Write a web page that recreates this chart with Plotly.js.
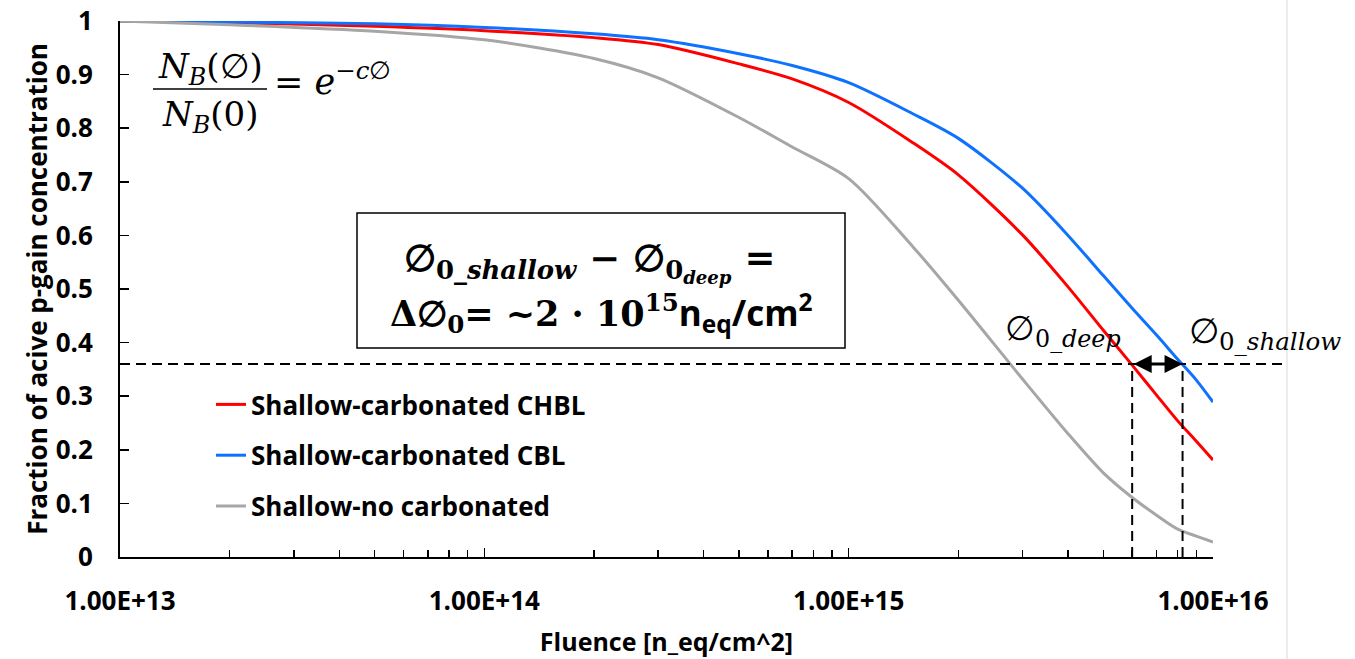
<!DOCTYPE html>
<html><head><meta charset="utf-8">
<script src="https://cdn.plot.ly/plotly-3.0.1.min.js"></script>
<style>html,body{margin:0;padding:0;background:#fff;}#chart{width:1355px;height:659px;}</style>
</head><body><div id="chart"></div>
<script>
// ---- data ----
const fluence = [1e13,2e13,5e13,1e14,2e14,3e14,5e14,7e14,1e15,1.5e15,2e15,3e15,4e15,5e15,6e15,7e15,8e15,9e15,1e16];
const chbl    = [1.000,0.997,0.990,0.982,0.969,0.956,0.920,0.892,0.848,0.773,0.713,0.601,0.504,0.423,0.358,0.302,0.254,0.216,0.181];
const cbl     = [1.000,0.998,0.995,0.988,0.976,0.965,0.939,0.917,0.885,0.827,0.781,0.688,0.600,0.525,0.464,0.414,0.369,0.330,0.289];
const noCarb  = [1.000,0.993,0.981,0.965,0.930,0.894,0.820,0.765,0.706,0.579,0.479,0.332,0.230,0.157,0.111,0.078,0.052,0.039,0.028];
const seriesNames = ['Shallow-carbonated CHBL','Shallow-carbonated CBL','Shallow-no carbonated'];
const xTickVals = [1e13,1e14,1e15,1e16];
const xTickText = ['1.00E+13','1.00E+14','1.00E+15','1.00E+16'];
const yTickVals = [0,0.1,0.2,0.3,0.4,0.5,0.6,0.7,0.8,0.9,1];
const yTickText = ['0','0.1','0.2','0.3','0.4','0.5','0.6','0.7','0.8','0.9','1'];
const threshold = 0.36;
const phiDeep = 6.0e15;
const phiShallow = 8.25e15;

// ---- styling ----
const SANS = 'Open Sans';
const SERIF = 'DejaVu Serif';
const colors = ['#FF0000','#0F72FF','#A6A6A6'];
const minorVals = [];
for (let d = 13; d < 16; d++) for (let m = 2; m <= 9; m++) minorVals.push(m * Math.pow(10, d));

const L = 120, R = 1213, T = 21, B = 557;
const px = x => (x - L) / (R - L);
const py = y => (B - y) / (B - T);

const traces = [chbl, cbl, noCarb].map((vals, i) => ({
  x: fluence, y: vals, type: 'scatter', mode: 'lines', name: seriesNames[i],
  legendgroup: 'g' + i, line: {color: colors[i], width: 3, shape: 'spline', smoothing: 0.8}
}));

const mathFont = {family: SERIF, size: 34, color: '#000'};
const boxFont = {family: SERIF, size: 35, color: '#000'};
function note(xp, yp, text, font, xanchor) {
  return {xref:'paper', yref:'paper', x: px(xp), y: py(yp), text: text, showarrow:false,
          xanchor: xanchor || 'center', yanchor:'middle', font: font};
}
const annotations = [
  note(210, 68, '<i>N</i><sub><i>B</i></sub>(∅)', mathFont),
  note(210, 116, '<i>N</i><sub><i>B</i></sub>(0)', mathFont),
  note(272, 79, '= <i>e</i><sup>−<i>c</i>∅</sup>', {family: SERIF, size: 35, color:'#000'}, 'left'),
  note(589, 262, '<b>∅<sub>0<i>_shallow</i></sub> − ∅<sub>0<sub><i>deep</i></sub></sub> =</b>', {family: SERIF, size: 37, color:'#000'}),
  note(601, 312, '<b>Δ∅<sub>0</sub>= ~2 · 10<sup>15</sup><span style="font-family:Open Sans">n<sub>eq</sub>/cm<sup>2</sup></span></b>', boxFont),
  note(1063, 330, '∅<sub>0<i>_deep</i></sub>', mathFont),
  note(1265, 333, '∅<sub>0<i>_shallow</i></sub>', {family: SERIF, size: 35, color:'#000'}),
  {xref:'x', yref:'y', x: Math.log10(phiShallow), y: threshold, ax: Math.log10(phiDeep), ay: threshold, axref:'x', ayref:'y',
   text:'', showarrow:true, arrowhead:2, startarrowhead:2, arrowside:'end+start', arrowwidth:3, arrowsize:1.2, startarrowsize:1.2, arrowcolor:'#000'}
];

const dash = {color:'#000', width:2, dash:'10px,6px'};
const shapes = [
  {type:'line', xref:'paper', yref:'paper', x0: px(153), x1: px(267), y0: py(89), y1: py(89), line:{color:'#000', width:1.5}},
  {type:'rect', xref:'paper', yref:'paper', x0: px(357), x1: px(845), y0: py(213), y1: py(348), line:{color:'#000', width:1.5}},
  {type:'line', xref:'paper', yref:'y', x0: 0, x1: px(1285), y0: threshold, y1: threshold, line: dash},
  {type:'line', xref:'x', yref:'y', x0: phiDeep, x1: phiDeep, y0: 0, y1: threshold, line: dash},
  {type:'line', xref:'x', yref:'y', x0: phiShallow, x1: phiShallow, y0: 0, y1: threshold, line: dash},
  {type:'line', xref:'paper', yref:'paper', x0: px(1287), x1: px(1287), y0: py(0), y1: py(659), line:{color:'#D9D9D9', width:1}}
];

const tickFont = {family: SANS, size: 26, color: '#000', weight: 'bold'};
const layout = {
  width: 1355, height: 659,
  margin: {l: L, r: 1355 - R, t: T, b: 659 - B},
  paper_bgcolor: '#fff', plot_bgcolor: '#fff',
  showlegend: true,
  legend: {x: px(211), y: py(381), xanchor:'left', yanchor:'top', bgcolor:'rgba(0,0,0,0)',
           font: {family: SANS, size: 26, color:'#000', weight:'bold'}, traceorder:'grouped', tracegroupgap: 14},
  xaxis: {type:'log', range:[13,16], showline:true, linecolor:'#000', linewidth:2, mirror:false,
          showgrid:false, zeroline:false, ticks:'inside', ticklen:9, tickwidth:1.5, tickcolor:'#000',
          tickmode:'array', tickvals: xTickVals, ticktext: xTickText, tickfont: tickFont, ticklabelstandoff: 20,
          minor: {ticks:'inside', ticklen:7, tickwidth:1.5, tickcolor:'#000', tickmode:'array', tickvals: minorVals, showgrid:false},
          title: {text:'Fluence [n_eq/cm^2]', font:{family: SANS, size: 25, color:'#000', weight:'bold'}, standoff: 16}},
  yaxis: {range:[0,1], showline:true, linecolor:'#000', linewidth:2, showgrid:false, zeroline:false,
          ticks:'inside', ticklen:9, tickwidth:1.5, tickcolor:'#000',
          tickmode:'array', tickvals: yTickVals, ticktext: yTickText, tickfont: tickFont, ticklabelstandoff: 20,
          title: {text:'Fraction of acive p-gain concentration', font:{family: SANS, size: 26, color:'#000', weight:'bold'}, standoff: 1}},
  annotations: annotations,
  shapes: shapes
};

Plotly.newPlot('chart', traces, layout, {displayModeBar:false, staticPlot:true});
</script></body></html>
